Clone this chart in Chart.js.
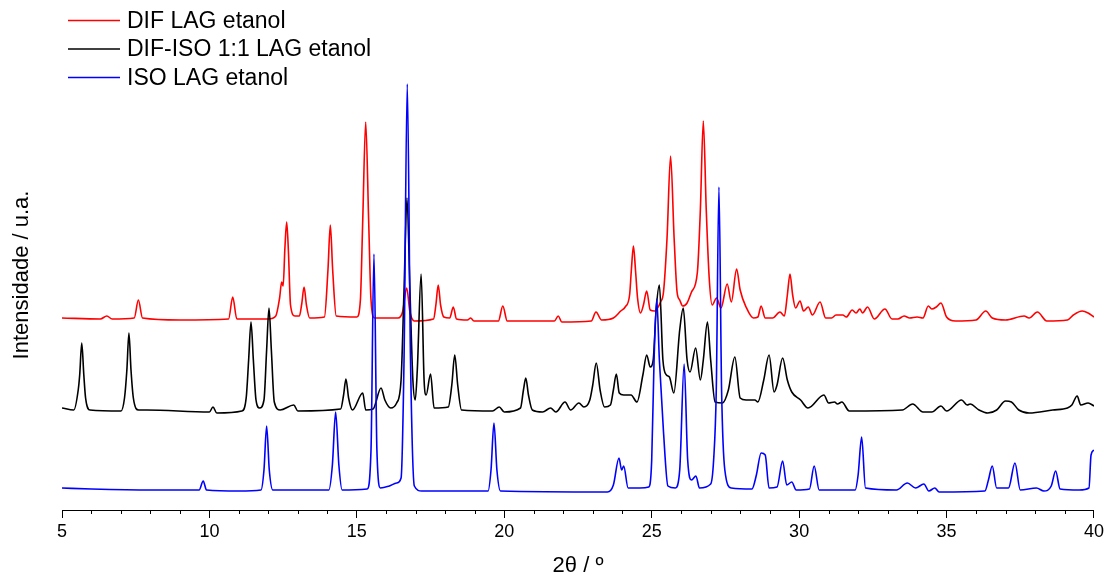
<!DOCTYPE html>
<html>
<head>
<meta charset="utf-8">
<script src="https://cdn.jsdelivr.net/npm/chart.js@4.4.1/dist/chart.umd.min.js"></script>
<style>
  html, body { margin: 0; padding: 0; background: #fff; }
  #wrap { width: 1107px; height: 578px; }
</style>
</head>
<body>
<div id="wrap"><canvas id="xrd" width="1107" height="578"></canvas></div>
<script>
const seriesNames = ["DIF LAG etanol", "DIF-ISO 1:1 LAG etanol", "ISO LAG etanol"];
const seriesColors = ["#ff0000", "#000000", "#0000ff"];
const xTicks = [5, 10, 15, 20, 25, 30, 35, 40];

// [2theta, intensity (a.u., offset stacked)]
const difLag = [
  [5.0,192],[6.3,191],[6.52,194],[6.7,191],
  [7.45,192],[7.59,210],[7.73,192],
  [9.0,190],[10.65,191],[10.79,213],[10.93,191],
  [12.0,191],[12.25,194],[12.38,212],[12.45,228],[12.5,224],[12.56,262],[12.62,288],[12.68,258],[12.75,205],[12.9,194],
  [13.05,194],[13.13,206],[13.21,223],[13.29,205],[13.4,192],
  [13.9,193],[14.02,240],[14.1,285],[14.18,240],[14.3,194],
  [15.0,193],[15.12,210],[15.2,290],[15.3,388],[15.4,290],[15.48,210],[15.6,192],
  [16.4,192],[16.55,198],[16.69,222],[16.8,198],[16.95,189],
  [17.6,191],[17.68,205],[17.76,225],[17.84,205],[17.95,193],[18.15,192],[18.27,203],[18.38,191],
  [18.75,190],[18.86,192],[18.97,189],
  [19.8,189],[19.95,204],[20.1,189],
  [21.7,189],[21.83,194],[21.95,188],
  [22.95,189],[23.11,198],[23.3,190],
  [23.7,192],[23.95,199],[24.1,203],[24.25,215],[24.31,240],[24.38,264],[24.45,240],[24.52,212],[24.62,197],
  [24.72,205],[24.83,219],[24.95,200],[25.1,199],[25.3,208],[25.4,218],[25.52,272],[25.64,354],[25.76,272],[25.86,218],[25.95,210],
  [26.05,204],[26.2,207],[26.35,218],[26.55,238],[26.65,300],[26.75,389],[26.85,300],[26.95,232],[27.05,205],
  [27.2,212],[27.35,202],[27.56,226],[27.7,208],[27.88,241],[28.0,220],[28.2,203],[28.45,192],
  [28.6,193],[28.71,204],[28.85,192],[29.1,192],[29.35,198],[29.5,194],[29.6,215],[29.69,236],[29.78,215],[29.88,202],
  [30.03,209],[30.15,199],[30.31,203],[30.45,195],[30.71,208],[30.9,192],
  [31.1,192],[31.25,195],[31.48,195],[31.6,193],[31.8,200],[31.93,197],[32.06,201],[32.15,197],[32.32,203],[32.55,191],
  [32.91,201],[33.15,191],[33.35,191],[33.56,194],[33.75,192],[34.0,193],[34.2,192],
  [34.38,204],[34.5,201],[34.65,203],[34.81,207],[35.0,193],[35.3,189],
  [36.0,190],[36.33,199],[36.55,192],[37.0,190],[37.63,194],[37.8,192],[38.08,198],[38.4,189],
  [39.1,190],[39.3,195],[39.6,199],[39.8,197],[40.0,193]
];

const difIsoLag = [
  [5.0,102],[5.4,100],[5.55,120],[5.6,135],[5.67,167],[5.74,135],[5.8,112],[5.95,100],
  [7.0,99],[7.12,112],[7.2,140],[7.27,177],[7.34,140],[7.42,112],[7.6,100],[7.87,100],
  [10.0,98],[10.12,103],[10.25,97],
  [11.1,99],[11.25,113],[11.33,150],[11.41,188],[11.49,150],[11.58,110],[11.7,102],
  [11.85,110],[11.94,160],[12.02,202],[12.1,160],[12.2,108],[12.4,100],[12.86,105],[13.0,99],
  [14.45,101],[14.55,115],[14.63,131],[14.72,112],[14.85,100],[15.2,117],[15.3,100],
  [15.55,101],[15.82,122],[15.95,110],[16.15,102],[16.35,107],[16.5,130],[16.6,220],[16.7,312],[16.8,220],[16.9,130],[16.98,110],
  [17.05,140],[17.18,236],[17.28,130],[17.35,115],[17.5,136],[17.62,102],
  [18.1,103],[18.22,125],[18.32,155],[18.42,125],[18.55,100],
  [19.6,99],[19.83,103],[20.0,98],[20.55,102],[20.65,120],[20.73,132],[20.82,115],[20.95,100],
  [21.3,98],[21.57,102],[21.75,98],[22.06,108],[22.25,100],[22.53,107],[22.7,103],
  [22.9,110],[23.0,125],[23.12,147],[23.25,120],[23.4,103],[23.6,105],[23.7,120],[23.8,136],[23.9,117],
  [24.05,115],[24.3,115],[24.5,108],[24.7,135],[24.83,155],[24.95,143],[25.05,150],[25.15,200],[25.26,225],[25.38,150],
  [25.5,135],[25.6,133],[25.75,117],[25.95,180],[26.07,202],[26.2,150],[26.3,138],[26.49,162],[26.65,130],
  [26.75,150],[26.89,188],[27.0,150],[27.15,108],[27.4,107],[27.6,120],[27.82,153],[28.0,112],[28.2,110],
  [28.5,110],[28.6,108],[28.8,130],[28.98,155],[29.15,118],[29.25,125],[29.44,152],[29.6,130],[29.75,118],
  [30.05,110],[30.3,102],[30.84,115],[31.0,107],[31.2,108],[31.3,106],[31.45,108],[31.7,99],
  [33.5,100],[33.85,106],[34.2,98],[34.5,98],[34.81,104],[35.0,99],[35.51,110],[35.7,105],[35.8,106],
  [36.1,100],[36.4,97],[36.7,100],[37.0,109],[37.2,108],[37.45,100],[37.8,97],[38.6,100],
  [39.1,102],[39.25,105],[39.43,114],[39.55,105],[39.8,107],[40.0,104]
];

const isoLag = [
  [5.0,22],[6.0,21],[8.0,20],[9.65,20],[9.79,29],[9.9,20],[11.0,19],
  [11.75,20],[11.85,40],[11.94,84],[12.03,40],[12.15,20],
  [14.05,20],[14.17,45],[14.28,98],[14.39,45],[14.5,20],
  [15.35,21],[15.48,60],[15.58,256],[15.68,60],[15.8,22],[16.1,24],[16.35,27],[16.5,32],
  [16.6,150],[16.71,426],[16.82,150],[16.95,24],[17.2,19],
  [19.45,19],[19.55,40],[19.65,87],[19.75,40],[19.87,19],
  [23.5,18],[23.7,25],[23.89,52],[23.98,40],[24.05,44],[24.2,22],[24.6,22],
  [24.9,23],[25.0,50],[25.08,150],[25.17,211],[25.26,150],[25.4,78],[25.55,24],
  [25.8,22],[25.95,40],[26.1,146],[26.22,50],[26.35,30],[26.5,34],[26.62,22],
  [27.0,26],[27.1,50],[27.19,120],[27.28,323],[27.37,120],[27.48,40],[27.7,22],
  [28.4,21],[28.55,35],[28.71,57],[28.85,55],[28.98,22],[29.25,23],[29.44,49],[29.58,25],[29.75,28],[29.9,20],
  [30.35,21],[30.51,44],[30.68,20],[31.9,20],[32.0,35],[32.12,73],[32.25,22],
  [33.3,20],[33.67,27],[33.95,22],[34.23,26],[34.4,19],[34.6,22],[34.75,18],
  [36.3,19],[36.42,30],[36.55,44],[36.7,22],[37.1,22],[37.32,47],[37.5,20],
  [38.05,22],[38.3,19],[38.55,24],[38.7,39],[38.85,21],[39.5,20],[39.83,22],[39.9,55],[40.0,60]
];

const FONT = "'Liberation Sans', Arial, sans-serif";
const allSeries = [difLag, difIsoLag, isoLag];

// legend in the top-left corner + minor ticks on the x axis
const decorations = {
  id: "decorations",
  afterDraw(chart) {
    const ctx = chart.ctx;
    const xs = chart.scales.x;
    ctx.save();
    ctx.strokeStyle = "#000";
    ctx.lineWidth = 1;
    ctx.beginPath();
    for (let v = xs.min; v <= xs.max; v++) {
      if (xTicks.includes(v)) continue;
      const px = Math.round(xs.getPixelForValue(v)) + 0.5;
      ctx.moveTo(px, xs.top);
      ctx.lineTo(px, xs.top + 4);
    }
    ctx.stroke();

    ctx.font = "23px " + FONT;
    ctx.textBaseline = "middle";
    seriesNames.forEach((name, i) => {
      const y = 20.5 + i * 28.5;
      ctx.strokeStyle = seriesColors[i];
      ctx.lineWidth = 1.6;
      ctx.beginPath();
      ctx.moveTo(68, y);
      ctx.lineTo(120, y);
      ctx.stroke();
      ctx.fillStyle = "#000";
      ctx.fillText(name, 127, y + 1);
    });
    ctx.restore();
  },
};

new Chart(document.getElementById("xrd"), {
  type: "line",
  data: {
    datasets: allSeries.map((s, i) => ({
      label: seriesNames[i],
      data: s.map(([x, y]) => ({ x, y })),
      borderColor: seriesColors[i],
      borderWidth: 1.6,
      pointRadius: 0,
      cubicInterpolationMode: "monotone",
      fill: false,
      order: 3 - i,
    })),
  },
  options: {
    responsive: false,
    animation: false,
    devicePixelRatio: 1,
    layout: { padding: { top: 40, right: 13, left: 0, bottom: 0 } },
    plugins: { legend: { display: false }, tooltip: { enabled: false } },
    scales: {
      x: {
        type: "linear",
        min: 5,
        max: 40,
        afterBuildTicks: (scale) => { scale.ticks = xTicks.map((v) => ({ value: v })); },
        afterFit: (scale) => { scale.height = 68; },
        grid: { drawOnChartArea: false, drawTicks: true, tickLength: 8, color: "#000" },
        border: { display: true, color: "#000", width: 1 },
        ticks: { color: "#000", font: { family: FONT, size: 18 }, padding: 3, maxRotation: 0 },
        title: {
          display: true,
          text: "2θ / º",
          color: "#000",
          font: { family: FONT, size: 22, lineHeight: 1 },
          padding: { top: 0, bottom: 1 },
        },
      },
      y: {
        min: 0,
        max: 470,
        afterFit: (scale) => { scale.width = 62; },
        grid: { display: false },
        border: { display: false },
        ticks: { display: false },
        title: {
          display: true,
          text: "Intensidade / u.a.",
          color: "#000",
          font: { family: FONT, size: 22, lineHeight: 1 },
          padding: { top: 11, bottom: 0 },
        },
      },
    },
  },
  plugins: [decorations],
});
</script>
</body>
</html>
